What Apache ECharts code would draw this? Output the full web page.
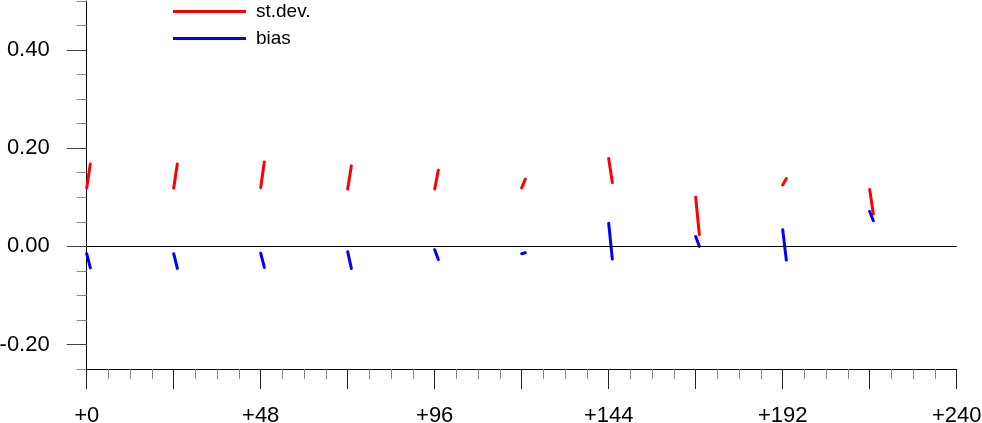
<!DOCTYPE html>
<html>
<head>
<meta charset="utf-8">
<script src="https://cdn.jsdelivr.net/npm/echarts@6/dist/echarts.min.js"></script>
<style>
html,body{margin:0;padding:0;background:#fff;}
#chart{width:982px;height:423px;}
</style>
</head>
<body>
<div id="chart"></div>
<script>
// Forecast lead times (hours) where each short segment begins
const leadTimes = [0, 24, 48, 72, 96, 120, 144, 168, 192, 216];
const segmentSpan = 1; // hours covered by each short segment
// st.dev. segment start/end values
const stdStart = [0.119, 0.119, 0.120, 0.117, 0.117, 0.119, 0.179, 0.100, 0.125, 0.116];
const stdEnd   = [0.168, 0.168, 0.172, 0.164, 0.155, 0.137, 0.130, 0.024, 0.138, 0.066];
// bias segment start/end values
const biasStart = [-0.015, -0.015, -0.014, -0.011, -0.007, -0.015, 0.047, 0.020, 0.034, 0.071];
const biasEnd   = [-0.044, -0.045, -0.043, -0.045, -0.027, -0.013, -0.026, 0.000, -0.028, 0.052];
// axis tick labels
const xLabelValues = [0, 48, 96, 144, 192, 240];
const yLabelValues = [-0.2, 0, 0.2, 0.4];

function buildSegments(starts, ends) {
  const out = [];
  leadTimes.forEach((t, i) => {
    out.push([t, starts[i]]);
    out.push([t + segmentSpan, ends[i]]);
    out.push([t + segmentSpan + 1, null]);
  });
  return out;
}

const FONT = "'Liberation Sans', Arial, Helvetica, sans-serif";
const chart = echarts.init(document.getElementById('chart'), null, {renderer: 'canvas'});
chart.setOption({
  animation: false,
  backgroundColor: '#ffffff',
  grid: {left: 86.7, right: 25.3, top: 1, bottom: 54, containLabel: false, outerBoundsMode: 'none'},
  legend: {
    orient: 'vertical',
    left: 173,
    top: 2,
    padding: 0,
    itemGap: 8,
    itemWidth: 73,
    itemHeight: 3,
    icon: 'rect',
    data: ['st.dev.', 'bias'],
    textStyle: {fontFamily: FONT, fontSize: 19, lineHeight: 19, color: '#000', padding: [0, 0, 0, 5]}
  },
  xAxis: {
    type: 'value',
    min: 0,
    max: 240,
    interval: 24,
    axisLine: {show: true, onZero: false, lineStyle: {color: '#000', width: 1}},
    axisTick: {show: true, inside: false, length: 20, lineStyle: {color: '#222', width: 1}},
    minorTick: {show: true, splitNumber: 4, length: 10, lineStyle: {color: '#888', width: 1}},
    splitLine: {show: false},
    minorSplitLine: {show: false},
    axisLabel: {
      margin: 36,
      fontFamily: FONT, fontSize: 22, lineHeight: 22, color: '#000',
      hideOverlap: false,
      formatter: v => xLabelValues.indexOf(v) >= 0 ? '+' + v : ''
    }
  },
  yAxis: [{
    type: 'value',
    min: -0.25,
    max: 0.5,
    interval: 0.05,
    axisLine: {show: true, onZero: false, lineStyle: {color: '#000', width: 1}},
    axisTick: {show: true, inside: false, length: 10, lineStyle: {color: '#888', width: 1}},
    axisLabel: {show: false},
    splitLine: {show: false}
  }, {
    type: 'value',
    position: 'left',
    min: -0.25,
    max: 0.5,
    interval: 0.05,
    axisLine: {show: false},
    axisTick: {show: true, inside: false, length: 20, customValues: yLabelValues, lineStyle: {color: '#444', width: 1}},
    axisLabel: {
      show: true, margin: 37, customValues: yLabelValues,
      fontFamily: FONT, fontSize: 22, color: '#000',
      formatter: v => v.toFixed(2)
    },
    splitLine: {show: false}
  }],
  series: [{
    name: 'st.dev.',
    type: 'line',
    color: '#ff0000',
    yAxisIndex: 0,
    showSymbol: false,
    connectNulls: false,
    lineStyle: {width: 3, color: '#ff0000', cap: 'round'},
    data: buildSegments(stdStart, stdEnd),
    markLine: {
      silent: true,
      symbol: 'none',
      label: {show: false},
      lineStyle: {color: '#000', width: 1, type: 'solid'},
      data: [{yAxis: 0}]
    },
    z: 3
  }, {
    name: 'bias',
    type: 'line',
    color: '#0000ff',
    yAxisIndex: 0,
    showSymbol: false,
    connectNulls: false,
    lineStyle: {width: 3, color: '#0000ff', cap: 'round'},
    data: buildSegments(biasStart, biasEnd),
    z: 4
  }]
});
</script>
</body>
</html>
